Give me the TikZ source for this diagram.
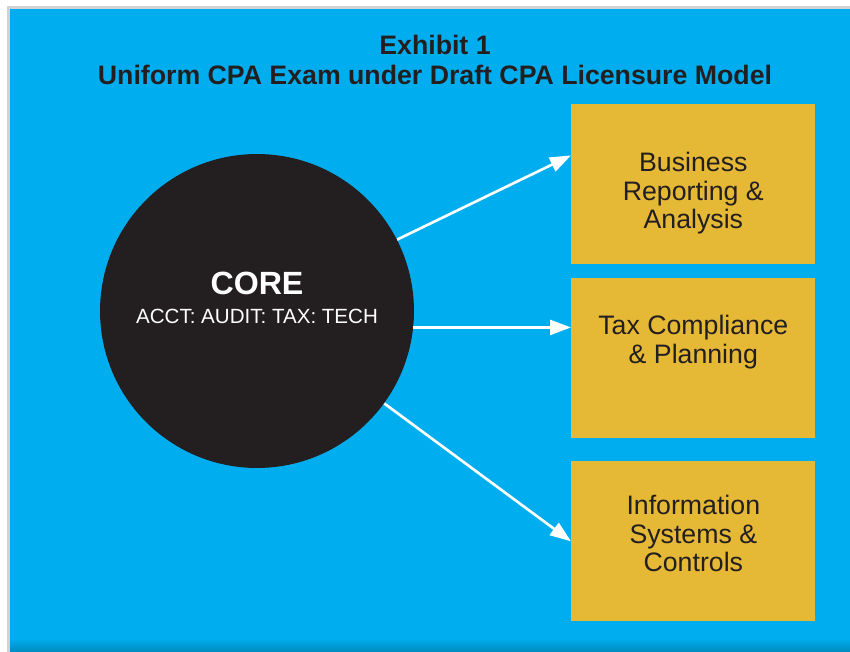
\documentclass[tikz,border=0pt]{standalone}
\usepackage{fontspec}
\setmainfont{Liberation Sans}
\usetikzlibrary{positioning,calc,arrows.meta}
\definecolor{panelblue}{HTML}{00AEEF}
\definecolor{boxgold}{HTML}{E5B836}
\definecolor{coreblack}{HTML}{231F20}

\begin{document}
\begin{tikzpicture}[x=0.02cm, y=-0.02cm,
                    box/.style={fill=boxgold, minimum width=4.88cm, minimum height=3.2cm,
                                inner sep=0pt, anchor=north west},
                    boxtxt/.style={align=center, inner sep=0pt, text=coreblack,
                                   font=\fontsize{15.2}{16.2}\selectfont},
                    hd/.style={anchor=base, inner sep=0pt, text=coreblack,
                               font=\bfseries\fontsize{15.2}{17}\selectfont},
                    arr/.style={draw=white, line width=1.5pt,
                                -{Triangle[length=0.42cm, width=0.3cm]}}]
  \useasboundingbox (0,0) rectangle (850,652);
  % panel
  \fill[gray!35] (7,6) rectangle (850,652);
  \fill[panelblue] (10,9) rectangle (850,652);
  \shade[top color=panelblue, bottom color=panelblue!80!black] (10,638) rectangle (850,652);
  \node[hd] (title) at (435,55) {Exhibit 1};
  \node[hd] (subtitle) at (435,85) {Uniform CPA Exam under Draft CPA Licensure Model};
  % core circle
  \node[circle, fill=coreblack, minimum size=6.28cm, inner sep=0pt] (core) at (257,311) {};
  \node[anchor=base, inner sep=0pt, text=white, font=\bfseries\fontsize{18.3}{20}\selectfont]
    (coretitle) at (257,295) {CORE};
  \node[anchor=base, inner sep=0pt, text=white, font=\fontsize{11.7}{13}\selectfont]
    (coresub) at (257,324) {ACCT: AUDIT: TAX: TECH};
  % sections
  \node[box] (box1) at (571,104) {};
  \node[box] (box2) at (571,278) {};
  \node[box] (box3) at (571,461) {};
  \node[boxtxt, below=0.96cm of box1.north] (txt1) {Business\\Reporting \&\\Analysis};
  \node[boxtxt, below=0.74cm of box2.north] (txt2) {Tax Compliance\\\& Planning};
  \node[boxtxt, below=0.68cm of box3.north] (txt3) {Information\\Systems \&\\Controls};
  \draw[arr] (core.27) -- ($(box1.north west)!0.32!(box1.south west)$);
  \draw[arr] (core.-6) -- (core.-6 -| box2.west);
  \draw[arr] (core.-36) -- (box3.west);
\end{tikzpicture}
\end{document}
